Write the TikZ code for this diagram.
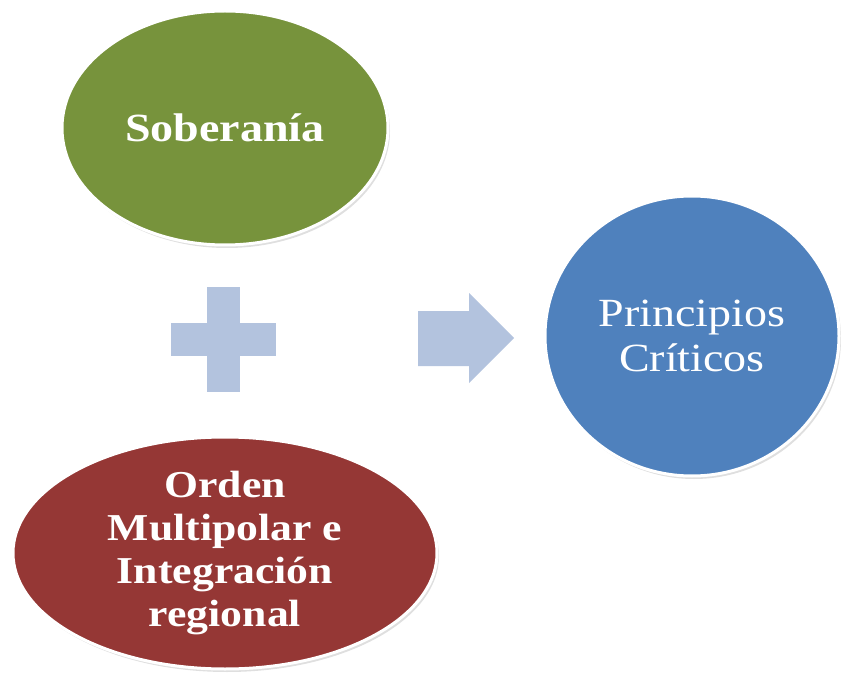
\documentclass[tikz,border=0pt]{standalone}
\usepackage{fontspec}
\setmainfont[FakeStretch=1.15]{Liberation Serif}
\usetikzlibrary{shapes.geometric,shadows}
\definecolor{cgreen}{HTML}{77933C}
\definecolor{cred}{HTML}{953735}
\definecolor{cblue}{HTML}{4F81BD}
\definecolor{clight}{HTML}{B3C3DE}
\tikzset{
  blob/.style={ellipse, draw=white, line width=3pt, inner sep=0pt,
    drop shadow={opacity=0.25, shadow xshift=2pt, shadow yshift=-3pt},
    text=white, align=center},
  deco/.style={fill=clight, draw=none}
}
\begin{document}
\begin{tikzpicture}[x=1pt,y=-1pt]
\useasboundingbox (0,0) rectangle (841,679);
\node[blob, fill=cgreen, minimum width=326pt, minimum height=234pt,
  font=\fontsize{40}{44}\selectfont\bfseries] (sob) at (225,128) {Soberanía};
\node[blob, fill=cred, minimum width=424pt, minimum height=232pt,
  font=\fontsize{38}{43}\selectfont\bfseries] (ord) at (225,553)
  {Orden\\Multipolar e\\Integración\\regional};
\node[blob, fill=cblue, minimum width=294pt, minimum height=280pt,
  font=\fontsize{40}{45}\selectfont] (pri) at (692,336) {Principios\\Críticos};
% plus sign
\coordinate (plus) at (223.5,339.5);
\fill[deco] (207,287) rectangle (240,392);
\fill[deco] (171,323) rectangle (276,356);
% arrow
\coordinate (arr) at (466,338);
\fill[deco] (418,311) -- (469,311) -- (469,293) -- (514,338) -- (469,383) -- (469,366) -- (418,366) -- cycle;
\end{tikzpicture}
\end{document}
